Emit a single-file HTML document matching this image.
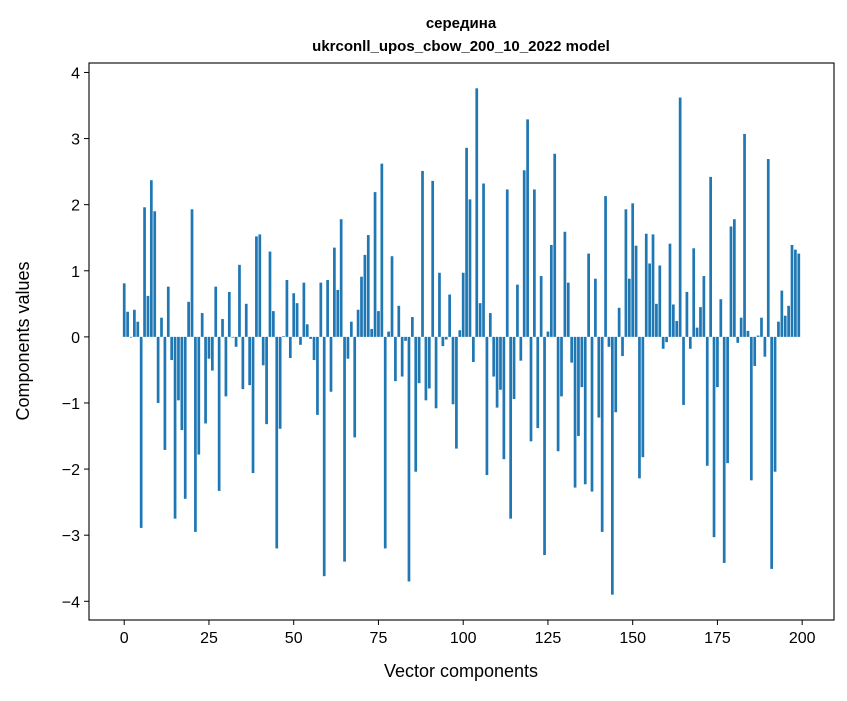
<!DOCTYPE html>
<html><head><meta charset="utf-8"><style>
body{margin:0;background:#fff;font-family:"Liberation Sans","DejaVu Sans",sans-serif}
svg text{font-family:"Liberation Sans","DejaVu Sans",sans-serif}
</style></head><body>
<svg id="chart" width="847" height="696" xmlns="http://www.w3.org/2000/svg">
<rect width="847" height="696" fill="#fff"/>
<text x="461" y="28" text-anchor="middle" font-size="15" font-weight="bold">середина</text>
<text x="461" y="51" text-anchor="middle" font-size="15" font-weight="bold">ukrconll_upos_cbow_200_10_2022 model</text>
<g id="bars"></g>
<g id="xticks"></g>
<g id="yticks"></g>
<rect x="89" y="63" width="745" height="557" fill="none" stroke="#000" stroke-width="1.1"/>
<text x="461" y="677" text-anchor="middle" font-size="18">Vector components</text>
<text transform="translate(29,341) rotate(-90)" text-anchor="middle" font-size="18">Components values</text>
</svg>
<script>
const values = [0.81,0.38,-0.01,0.41,0.23,-2.89,1.96,0.62,2.37,1.9,-1.0,0.29,-1.71,0.76,-0.35,-2.75,-0.96,-1.41,-2.45,0.53,
1.93,-2.95,-1.78,0.36,-1.31,-0.33,-0.51,0.76,-2.33,0.27,-0.9,0.68,-0.01,-0.15,1.09,-0.79,0.5,-0.73,-2.06,1.52,
1.55,-0.43,-1.32,1.29,0.39,-3.2,-1.39,0.01,0.86,-0.32,0.66,0.51,-0.12,0.82,0.19,-0.03,-0.35,-1.18,0.82,-3.62,
0.86,-0.83,1.35,0.71,1.78,-3.4,-0.33,0.23,-1.52,0.41,0.91,1.24,1.54,0.12,2.19,0.39,2.62,-3.2,0.08,1.22,
-0.67,0.47,-0.6,-0.06,-3.7,0.3,-2.04,-0.7,2.51,-0.96,-0.78,2.36,-1.08,0.97,-0.14,-0.04,0.64,-1.02,-1.69,0.1,
0.97,2.86,2.08,-0.38,3.76,0.51,2.32,-2.09,0.36,-0.6,-1.07,-0.8,-1.85,2.23,-2.75,-0.94,0.79,-0.36,2.52,3.29,
-1.58,2.23,-1.38,0.92,-3.3,0.08,1.39,2.77,-1.73,-0.9,1.59,0.82,-0.39,-2.28,-1.5,-0.76,-2.23,1.26,-2.34,0.88,
-1.22,-2.95,2.13,-0.15,-3.9,-1.14,0.44,-0.29,1.93,0.88,2.02,1.38,-2.14,-1.82,1.56,1.11,1.55,0.5,1.08,-0.18,
-0.08,1.41,0.49,0.24,3.62,-1.03,0.68,-0.18,1.34,0.14,0.45,0.92,-1.95,2.42,-3.03,-0.76,0.57,-3.42,-1.91,1.67,
1.78,-0.09,0.29,3.07,0.09,-2.17,-0.44,0.02,0.29,-0.3,2.69,-3.51,-2.04,0.23,0.7,0.32,0.47,1.39,1.32,1.26];
const xTickValues = [0,25,50,75,100,125,150,175,200];
const yTickValues = [-4,-3,-2,-1,0,1,2,3,4];

const L=89,R=834,T=63,B=620,NS="http://www.w3.org/2000/svg";
const n=values.length, bw=0.8;
const xlo=-bw/2, xhi=n-1+bw/2, xpad=(xhi-xlo)*0.05;
const vmax=Math.max(...values), vmin=Math.min(...values), ypad=(vmax-vmin)*0.05;
const x0=xlo-xpad, x1=xhi+xpad, y0=vmin-ypad, y1=vmax+ypad;
const sx=v=>L+(v-x0)/(x1-x0)*(R-L);
const sy=v=>B-(v-y0)/(y1-y0)*(B-T);
const gb=document.getElementById('bars');
values.forEach((v,i)=>{
  const r=document.createElementNS(NS,'rect');
  const a=sx(i-bw/2), b=sx(i+bw/2);
  r.setAttribute('x',a); r.setAttribute('width',b-a);
  r.setAttribute('y',Math.min(sy(v),sy(0))); r.setAttribute('height',Math.abs(sy(v)-sy(0)));
  r.setAttribute('fill','#1f77b4');
  
  
  gb.appendChild(r);
});
const gx=document.getElementById('xticks');
xTickValues.forEach(t=>{
  const x=sx(t);
  const l=document.createElementNS(NS,'line');
  l.setAttribute('x1',x);l.setAttribute('x2',x);l.setAttribute('y1',B);l.setAttribute('y2',B+5);l.setAttribute('stroke','#000');
  
  
  gx.appendChild(l);
  const tx=document.createElementNS(NS,'text');
  tx.setAttribute('x',x);tx.setAttribute('y',B+23);tx.setAttribute('text-anchor','middle');tx.setAttribute('font-size','16');
  tx.textContent=t;
  
  
  gx.appendChild(tx);
});
const gy=document.getElementById('yticks');
yTickValues.forEach(t=>{
  const y=sy(t);
  const l=document.createElementNS(NS,'line');
  l.setAttribute('x1',L-5);l.setAttribute('x2',L);l.setAttribute('y1',y);l.setAttribute('y2',y);l.setAttribute('stroke','#000');
  
  
  gy.appendChild(l);
  const tx=document.createElementNS(NS,'text');
  tx.setAttribute('x',L-9);tx.setAttribute('y',y+6);tx.setAttribute('text-anchor','end');tx.setAttribute('font-size','16');
  tx.textContent=t<0?'\u2212'+(-t):String(t);
  
  
  gy.appendChild(tx);
});
</script>
</body></html>
